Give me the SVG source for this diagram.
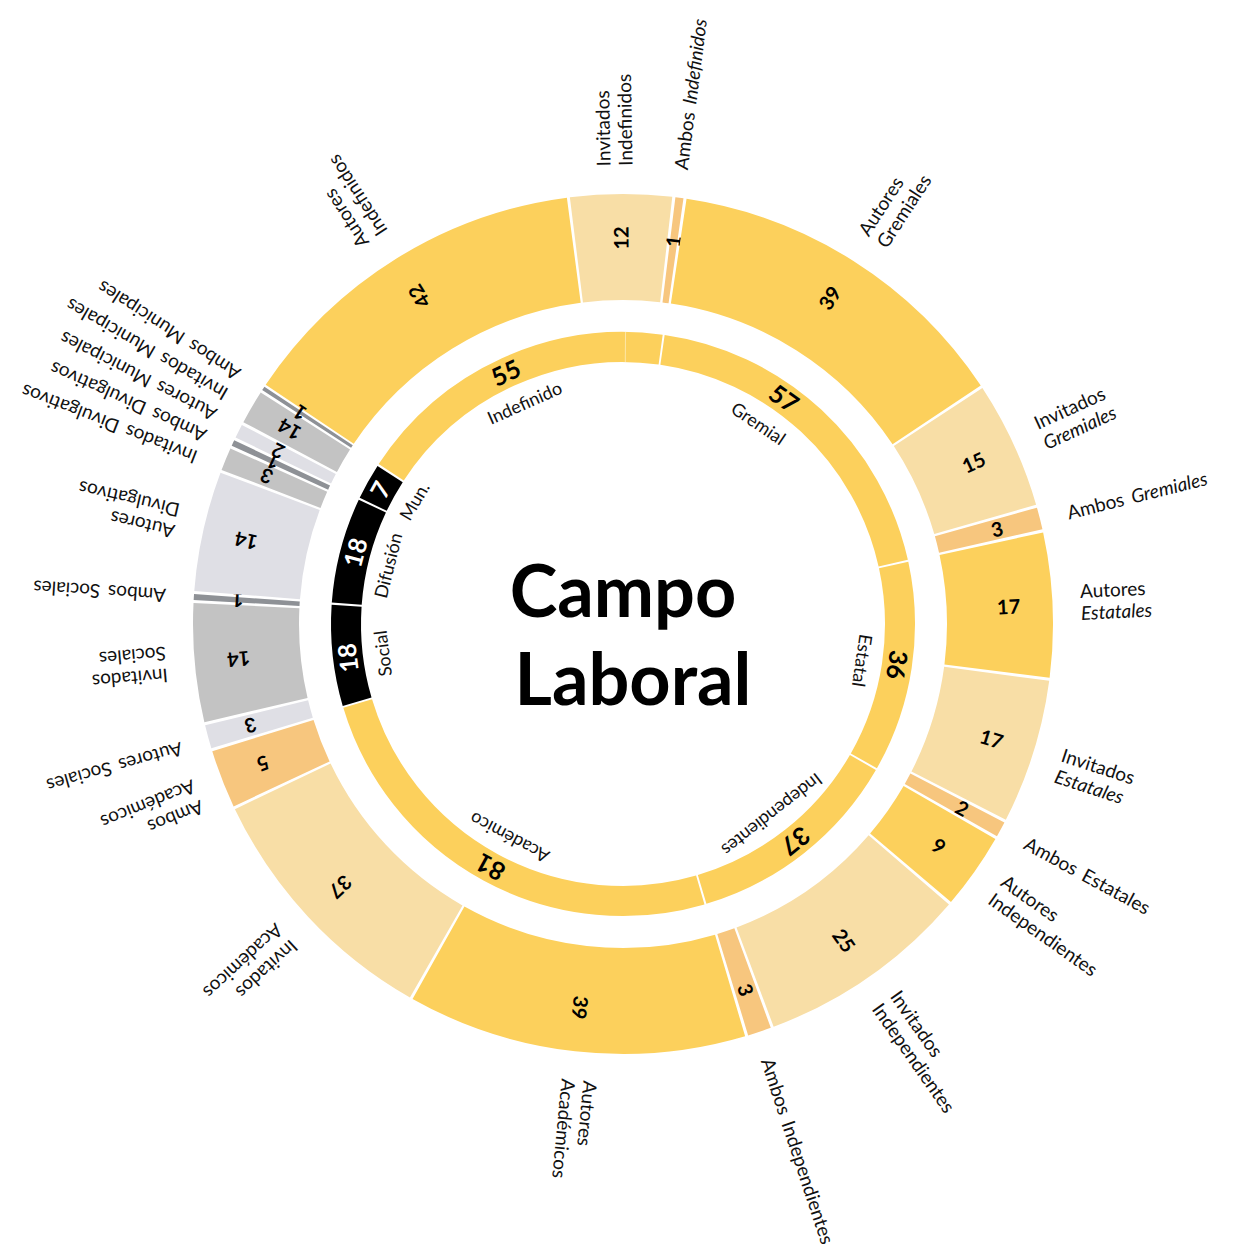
<svg xmlns="http://www.w3.org/2000/svg" width="1248" height="1248" viewBox="0 0 1248 1248">
<style>
.o{fill:none;stroke-width:106}
.i{fill:none;stroke-width:30}
.y{stroke:#fcd05c}.p{stroke:#f8dea6}.a{stroke:#f7c67e}.g1{stroke:#dfdfe5}.g2{stroke:#c3c3c3}.g3{stroke:#8e9196}.k{stroke:#000}
text{font-family:Lato,"Liberation Sans",sans-serif}
.num{font-weight:700;font-size:20px;text-anchor:middle;fill:#000}
.lab{font-size:19px;fill:#111;word-spacing:3px}
.inum{font-weight:700;font-size:25px;text-anchor:middle;fill:#000}
.w{fill:#fff}
.ilab{font-size:18px;text-anchor:middle;fill:#111}
.it{font-style:italic}
.title{font-weight:700;font-size:72px;text-anchor:middle;fill:#000}
</style>
<rect width="1248" height="1248" fill="#fff"/>
<g id="chart" transform="translate(623,624)">
<g id="outer-ring">
<g id="autores-indefinidos"><circle class="o y" r="377" pathLength="360" stroke-dasharray="48.7 400" transform="rotate(213.8)"/><text class="num" transform="rotate(328.15) translate(0,-386) rotate(-90)" dy="0.36em">42</text><text class="lab" transform="rotate(327) translate(0,-458) rotate(-90)"><tspan x="0" y="-4.5">Autores</tspan><tspan x="0" y="17.5">Indefinidos</tspan></text></g>
<g id="invitados-indefinidos"><circle class="o p" r="377" pathLength="360" stroke-dasharray="13.7 400" transform="rotate(262.9)"/><text class="num" transform="rotate(359.75) translate(0,-386) rotate(-90)" dy="0.36em">12</text><text class="lab" transform="rotate(-1) translate(0,-458) rotate(-90)"><tspan x="0" y="-4.5">Invitados</tspan><tspan x="0" y="17.5">Indefinidos</tspan></text></g>
<g id="ambos-indefinidos"><circle class="o a" r="377" pathLength="360" stroke-dasharray="1.1 400" transform="rotate(-83)"/><text class="num" transform="rotate(7.55) translate(0,-386) rotate(-90)" dy="0.36em">1</text><text class="lab" transform="rotate(7.3) translate(0,-458) rotate(-90)" y="6.5">Ambos <tspan class="it">Indefinidos</tspan></text></g>
<g id="autores-gremiales"><circle class="o y" r="377" pathLength="360" stroke-dasharray="47.8 400" transform="rotate(-81.5)"/><text class="num" transform="rotate(32.4) translate(0,-386) rotate(-90)" dy="0.36em">39</text><text class="lab" transform="rotate(33) translate(0,-458) rotate(-90)"><tspan x="0" y="-4.5">Autores</tspan><tspan x="0" y="17.5">Gremiales</tspan></text></g>
<g id="invitados-gremiales"><circle class="o p" r="377" pathLength="360" stroke-dasharray="17.2 400" transform="rotate(-33.3)"/><text class="num" transform="rotate(65.3) translate(0,-386) rotate(-90)" dy="0.36em">15</text><text class="lab" transform="rotate(65.5) translate(0,-458) rotate(-90)"><tspan x="0" y="-4.5">Invitados</tspan><tspan x="0" y="17.5" class="it">Gremiales</tspan></text></g>
<g id="ambos-gremiales"><circle class="o a" r="377" pathLength="360" stroke-dasharray="3 400" transform="rotate(-15.7)"/><text class="num" transform="rotate(75.8) translate(0,-386) rotate(-90)" dy="0.36em">3</text><text class="lab" transform="rotate(76) translate(0,-458) rotate(-90)" y="6.5">Ambos <tspan class="it">Gremiales</tspan></text></g>
<g id="autores-estatales"><circle class="o y" r="377" pathLength="360" stroke-dasharray="19.5 400" transform="rotate(-12.3)"/><text class="num" transform="rotate(87.45) translate(0,-386) rotate(-90)" dy="0.36em">17</text><text class="lab" transform="rotate(87.3) translate(0,-458) rotate(-90)"><tspan x="0" y="-4.5">Autores</tspan><tspan x="0" y="17.5" class="it">Estatales</tspan></text></g>
<g id="invitados-estatales"><circle class="o p" r="377" pathLength="360" stroke-dasharray="19.5 400" transform="rotate(7.6)"/><text class="num" transform="rotate(107.35) translate(0,-386) rotate(-90)" dy="0.36em">17</text><text class="lab" transform="rotate(108) translate(0,-458) rotate(-90)"><tspan x="0" y="-4.5">Invitados</tspan><tspan x="0" y="17.5" class="it">Estatales</tspan></text></g>
<g id="ambos-estatales"><circle class="o a" r="377" pathLength="360" stroke-dasharray="2.1 400" transform="rotate(27.5)"/><text class="num" transform="rotate(118.55) translate(0,-386) rotate(-90)" dy="0.36em">2</text><text class="lab" transform="rotate(118.5) translate(0,-458) rotate(-90)" y="6.5">Ambos Estatales</text></g>
<g id="autores-independientes"><circle class="o y" r="377" pathLength="360" stroke-dasharray="10.3 400" transform="rotate(30)"/><text class="num" transform="rotate(125.15) translate(0,-386) rotate(-90)" dy="0.36em">9</text><text class="lab" transform="rotate(125.3) translate(0,-458) rotate(-90)"><tspan x="0" y="-4.5">Autores</tspan><tspan x="0" y="17.5">Independientes</tspan></text></g>
<g id="invitados-independientes"><circle class="o p" r="377" pathLength="360" stroke-dasharray="28.8 400" transform="rotate(40.7)"/><text class="num" transform="rotate(145.1) translate(0,-386) rotate(-90)" dy="0.36em">25</text><text class="lab" transform="rotate(145) translate(0,-458) rotate(-90)"><tspan x="0" y="-4.5">Invitados</tspan><tspan x="0" y="17.5">Independientes</tspan></text></g>
<g id="ambos-independientes"><circle class="o a" r="377" pathLength="360" stroke-dasharray="3.2 400" transform="rotate(69.9)"/><text class="num" transform="rotate(161.5) translate(0,-386) rotate(-90)" dy="0.36em">3</text><text class="lab" transform="rotate(161.7) translate(0,-458) rotate(-90)" y="6.5">Ambos Independientes</text></g>
<g id="autores-academicos"><circle class="o y" r="377" pathLength="360" stroke-dasharray="45.8 400" transform="rotate(73.5)"/><text class="num" transform="rotate(186.4) translate(0,-386) rotate(-90)" dy="0.36em">39</text><text class="lab" transform="rotate(185.5) translate(0,-458) rotate(-90)"><tspan x="0" y="-4.5">Autores</tspan><tspan x="0" y="17.5">Académicos</tspan></text></g>
<g id="invitados-academicos"><circle class="o p" r="377" pathLength="360" stroke-dasharray="34.8 400" transform="rotate(119.7)"/><text class="num" transform="rotate(227.1) translate(0,-386) rotate(-90)" dy="0.36em">37</text><text class="lab" transform="rotate(227.2) translate(0,-458) rotate(-90)"><tspan x="0" y="-4.5">Invitados</tspan><tspan x="0" y="17.5">Académicos</tspan></text></g>
<g id="ambos-academicos"><circle class="o a" r="377" pathLength="360" stroke-dasharray="7.9 400" transform="rotate(154.9)"/><text class="num" transform="rotate(248.85) translate(0,-386) rotate(-90)" dy="0.36em">5</text><text class="lab" transform="rotate(248) translate(0,-458) rotate(-90)"><tspan x="0" y="-4.5">Ambos</tspan><tspan x="0" y="17.5">Académicos</tspan></text></g>
<g id="autores-sociales"><circle class="o g1" r="377" pathLength="360" stroke-dasharray="3.2 400" transform="rotate(163.2)"/><text class="num" transform="rotate(254.8) translate(0,-386) rotate(-90)" dy="0.36em">3</text><text class="lab" transform="rotate(254.3) translate(0,-458) rotate(-90)" y="6.5">Autores Sociales</text></g>
<g id="invitados-sociales"><circle class="o g2" r="377" pathLength="360" stroke-dasharray="16 400" transform="rotate(166.8)"/><text class="num" transform="rotate(264.8) translate(0,-386) rotate(-90)" dy="0.36em">14</text><text class="lab" transform="rotate(265) translate(0,-458) rotate(-90)"><tspan x="0" y="-4.5">Invitados</tspan><tspan x="0" y="17.5">Sociales</tspan></text></g>
<g id="ambos-sociales"><circle class="o g3" r="377" pathLength="360" stroke-dasharray="0.8 400" transform="rotate(183.2)"/><text class="num" transform="rotate(273.6) translate(0,-386) rotate(-90)" dy="0.36em">1</text><text class="lab" transform="rotate(273.6) translate(0,-458) rotate(-90)" y="6.5">Ambos Sociales</text></g>
<g id="autores-divulgativos"><circle class="o g1" r="377" pathLength="360" stroke-dasharray="16.2 400" transform="rotate(184.4)"/><text class="num" transform="rotate(282.5) translate(0,-386) rotate(-90)" dy="0.36em">14</text><text class="lab" transform="rotate(283) translate(0,-458) rotate(-90)"><tspan x="0" y="-4.5">Autores</tspan><tspan x="0" y="17.5">Divulgativos</tspan></text></g>
<g id="invitados-divulgativos"><circle class="o g2" r="377" pathLength="360" stroke-dasharray="3.1 400" transform="rotate(201)"/><text class="num" transform="rotate(292.55) translate(0,-386) rotate(-90)" dy="0.36em">3</text><text class="lab" transform="rotate(291.3) translate(0,-458) rotate(-90)" y="6.5">Invitados Divulgativos</text></g>
<g id="ambos-divulgativos"><circle class="o g3" r="377" pathLength="360" stroke-dasharray="0.8 400" transform="rotate(204.5)"/><text class="num" transform="rotate(294.9) translate(0,-386) rotate(-90)" dy="0.36em">1</text><text class="lab" transform="rotate(294.2) translate(0,-458) rotate(-90)" y="6.5">Ambos Divulgativos</text></g>
<g id="autores-municipales"><circle class="o g1" r="377" pathLength="360" stroke-dasharray="1.9 400" transform="rotate(205.7)"/><text class="num" transform="rotate(296.65) translate(0,-386) rotate(-90)" dy="0.36em">2</text><text class="lab" transform="rotate(297.1) translate(0,-458) rotate(-90)" y="6.5">Autores Municipales</text></g>
<g id="invitados-municipales"><circle class="o g2" r="377" pathLength="360" stroke-dasharray="4.6 400" transform="rotate(208)"/><text class="num" transform="rotate(300.3) translate(0,-386) rotate(-90)" dy="0.36em">14</text><text class="lab" transform="rotate(300) translate(0,-458) rotate(-90)" y="6.5">Invitados Municipales</text></g>
<g id="ambos-municipales"><circle class="o g3" r="377" pathLength="360" stroke-dasharray="0.55 400" transform="rotate(212.95)"/><text class="num" transform="rotate(303.2) translate(0,-386) rotate(-90)" dy="0.36em">1</text><text class="lab" transform="rotate(302.9) translate(0,-458) rotate(-90)" y="6.5">Ambos Municipales</text></g>
</g>
<g id="inner-ring">
<g id="indefinido"><circle class="i y" r="277" pathLength="360" stroke-dasharray="64.6 400" transform="rotate(213.2)"/><line x1="0" y1="-262" x2="0" y2="-292" stroke="#fde6a6" stroke-width="1" transform="rotate(0.5)"/><text class="inum" transform="rotate(-25) translate(0,-277)" y="9">55</text><text class="ilab" transform="rotate(-24) translate(0,-242)" y="6.5">Indefinido</text></g>
<g id="gremial"><circle class="i y" r="277" pathLength="360" stroke-dasharray="69.1 400" transform="rotate(-81.8)"/><text class="inum" transform="rotate(35.5) translate(0,-277)" y="9">57</text><text class="ilab" transform="rotate(34) translate(0,-242)" y="6.5">Gremial</text></g>
<g id="estatal"><circle class="i y" r="277" pathLength="360" stroke-dasharray="41.9 400" transform="rotate(-12.3)"/><text class="inum" transform="rotate(98.5) translate(0,-277)" y="9">36</text><text class="ilab" transform="rotate(98.7) translate(0,-242)" y="6.5">Estatal</text></g>
<g id="independientes"><circle class="i y" r="277" pathLength="360" stroke-dasharray="43.4 400" transform="rotate(30)"/><text class="inum" transform="rotate(141.5) translate(0,-277)" y="9">37</text><text class="ilab" transform="rotate(142) translate(0,-242)" y="6.5">Independientes</text></g>
<g id="academico"><circle class="i y" r="277" pathLength="360" stroke-dasharray="89.5 400" transform="rotate(73.8)"/><text class="inum" transform="rotate(208.6) translate(0,-277)" y="9">81</text><text class="ilab" transform="rotate(208) translate(0,-242)" y="6.5">Académico</text></g>
<g id="social"><circle class="i k" r="277" pathLength="360" stroke-dasharray="20.1 400" transform="rotate(163.7)"/><text class="inum w" transform="rotate(263) translate(0,-277)" y="9">18</text><text class="ilab" transform="rotate(263) translate(0,-242)" y="6.5">Social</text></g>
<g id="difusion"><circle class="i k" r="277" pathLength="360" stroke-dasharray="21 400" transform="rotate(184.2)"/><text class="inum w" transform="rotate(285) translate(0,-277)" y="9">18</text><text class="ilab" transform="rotate(284) translate(0,-242)" y="6.5">Difusión</text></g>
<g id="mun"><circle class="i k" r="277" pathLength="360" stroke-dasharray="7.2 400" transform="rotate(205.6)"/><text class="inum w" transform="rotate(299) translate(0,-277)" y="9">7</text><text class="ilab" transform="rotate(300.5) translate(0,-242)" y="6.5">Mun.</text></g>
</g>
<g id="connectors"/>
</g>
<g id="title">
<text class="title" x="623" y="617">Campo</text>
<text class="title" x="633" y="705">Laboral</text>
</g>
</svg>
